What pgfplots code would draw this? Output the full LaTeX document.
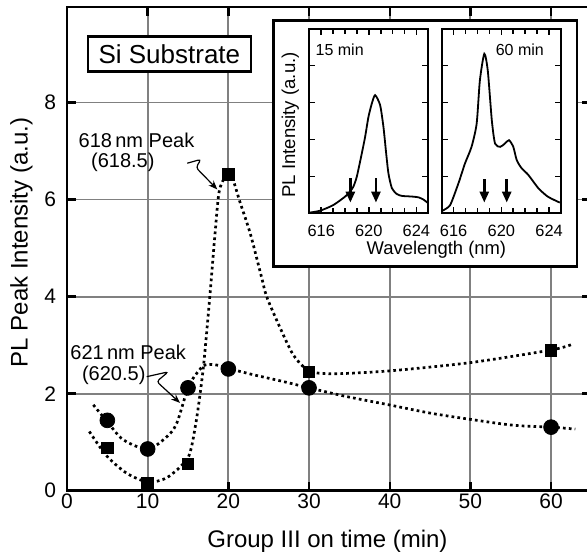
\documentclass[border=0pt]{standalone}
\usepackage{fontspec}
\setmainfont{Liberation Sans}
\usepackage{pgfplots}
\pgfplotsset{compat=1.18}
\usetikzlibrary{arrows.meta}

\begin{document}
\begin{tikzpicture}
\begin{axis}[
  at={(0pt,0pt)}, anchor=south west,
  scale only axis, width=262.2pt, height=241.85pt,
  xmin=0, xmax=65, ymin=0, ymax=9.97,
  xtick={0,10,...,60}, ytick={0,2,4,6,8},
  grid=major, grid style={black!50, line width=0.9pt},
  axis line style={line width=1.3pt},
  tick align=inside, major tick length=4.5pt,
  major tick style={black, line width=1.2pt},
  tick label style={font=\fontsize{10.5}{12}\selectfont},
  /pgf/number format/assume math mode=true,
  xticklabel style={inner sep=1.5pt},
  yticklabel style={xshift=-2pt},
]
% 618 nm fit curve
\addplot[black, line width=1.35pt, dash pattern=on 1.35pt off 1.6pt, smooth, tension=0.45] coordinates {
(2.77,1.22) (4.9,0.72) (7.4,0.36) (10,0.18) (12.4,0.27) (15,0.68) (15.9,1.32) (16.5,2.0) (17.0,2.7) (17.7,4.0) (18.35,5.3) (18.9,6.2) (20,6.55) (20.6,6.4) (21.4,5.97) (22.7,5.31) (24.1,4.41) (24.75,4.0) (26.3,3.4) (28.05,2.8) (30,2.47) (33,2.41) (40,2.47) (50,2.64) (60,2.9) (62.5,3.01)
};
% 621 nm fit curve
\addplot[black, line width=1.35pt, dash pattern=on 1.35pt off 1.6pt, smooth, tension=0.5] coordinates {
(3.26,1.77) (5,1.42) (6.98,1.05) (10,0.86) (12.36,1.11) (13.6,1.39) (15,2.12) (16.08,2.42) (17.1,2.59) (18.56,2.59) (20,2.52) (23.1,2.39) (26.8,2.25) (30,2.12) (34.67,1.94) (39.9,1.77) (45,1.6) (50,1.47) (55.3,1.35) (60,1.31) (63,1.27)
};
% 618 nm peak data
\addplot[only marks, mark=square*, mark size=2.9pt, black] coordinates {
(5,0.88) (10,0.15) (15,0.55) (20,6.52) (30,2.45) (60,2.89)
};
% 621 nm peak data
\addplot[only marks, mark=*, mark size=3.7pt, black] coordinates {
(5,1.45) (10,0.86) (15,2.12) (20,2.51) (30,2.12) (60,1.31)
};
\node[anchor=base west, inner sep=0pt, font=\fontsize{10}{12}\selectfont] at (axis cs:1.40,7.07) {618\,nm Peak};
\node[anchor=base west, inner sep=0pt, font=\fontsize{10}{12}\selectfont] at (axis cs:2.94,6.67) {(618.5)};
\node[anchor=base west, inner sep=0pt, font=\fontsize{10}{12}\selectfont] at (axis cs:0.37,2.71) {621\,nm Peak};
\node[anchor=base west, inner sep=0pt, font=\fontsize{10}{12}\selectfont] at (axis cs:1.82,2.27) {(620.5)};
\draw[line width=0.6pt, rounded corners=1.5pt, -{Stealth[length=4.5pt,width=3.5pt]}] (axis cs:14.91,6.75) -- (axis cs:16.61,6.83) -- (axis cs:15.99,6.66) -- (axis cs:18.63,6.21);
\draw[line width=0.6pt, rounded corners=1.5pt, -{Stealth[length=4.5pt,width=3.5pt]}] (axis cs:9.88,2.35) -- (axis cs:12.56,2.45) -- (axis cs:11.12,2.25) -- (axis cs:14.0,1.81);
\node[draw, line width=1.2pt, fill=white, minimum width=81.35pt, minimum height=17.5pt, inner sep=0pt, font=\fontsize{13}{15}\selectfont] at (axis cs:12.69,9.0) {Si Substrate};
\end{axis}

% axis labels (main axis sits at the origin)
\node[anchor=center, inner sep=0pt, font=\fontsize{12}{14}\selectfont] at (130.2pt,-25.4pt) {Group III on time (min)};
\node[rotate=90, anchor=center, inner sep=0pt, font=\fontsize{12}{14}\selectfont] at (-22.75pt,124.1pt) {PL Peak Intensity (a.u.)};

% inset frame
\draw[line width=1.3pt, fill=white] (103.15pt,112pt) rectangle (255pt,235pt);
\node[rotate=90, anchor=base, inner sep=0pt, font=\fontsize{9.3}{11}\selectfont] at (114pt,182.85pt) {PL Intensity (a.u.)};
\node[anchor=base, inner sep=0pt, font=\fontsize{9.2}{11}\selectfont] at (184.7pt,118.1pt) {Wavelength (nm)};

\pgfplotsset{inset/.style={
  anchor=south west, scale only axis, height=92.3pt,
  xmin=615, xmax=625, ymin=0, ymax=5,
  xtick={616,620,624}, minor x tick num=3,
  ytick={1,2,3,4}, yticklabels={},
  tick align=inside, major tick length=3pt, minor tick length=2.5pt,
  tick style={black, line width=0.8pt},
  axis line style={line width=1pt},
  xticklabel style={font=\fontsize{8.2}{9}\selectfont, inner sep=0pt, yshift=-5.5pt},
  /pgf/number format/assume math mode=true,
  /pgf/number format/1000 sep={},
}}

\begin{axis}[inset, at={(121.15pt,138.7pt)}, width=59.5pt]
\addplot[black, line width=0.9pt, smooth, tension=0.4] coordinates {
(615.05,0.02) (615.9,0.07) (617.0,0.22) (618.0,0.45) (618.4,0.58) (618.7,0.72) (618.99,0.99) (619.41,1.62) (619.69,2.07) (619.97,2.61) (620.25,2.97) (620.53,3.2) (620.95,2.93) (621.23,2.34) (621.46,1.62) (621.65,1.08) (621.94,0.68) (622.36,0.52) (622.8,0.47) (623.3,0.46) (623.76,0.45) (624.2,0.43) (624.6,0.37) (625,0.27)
};
\draw[line width=1.3pt, -{Triangle[length=5.5pt,width=4.5pt]}] (axis cs:618.45,0.95) -- (axis cs:618.45,0.29);
\draw[line width=1.3pt, -{Triangle[length=5.5pt,width=4.5pt]}] (axis cs:620.6,0.95) -- (axis cs:620.6,0.29);
\node[anchor=base west, inner sep=0pt, font=\fontsize{8}{9}\selectfont] at (axis cs:615.5,4.28) {15 min};
\end{axis}

\begin{axis}[inset, at={(187.35pt,138.7pt)}, width=59.65pt]
\addplot[black, line width=0.9pt, smooth, tension=0.4] coordinates {
(615.05,0.07) (615.7,0.22) (616.4,0.81) (616.95,1.35) (617.5,1.8) (617.93,2.43) (618.2,3.6) (618.57,4.32) (618.86,3.87) (619.2,2.52) (619.47,1.89) (619.9,1.8) (620.3,1.89) (620.64,1.98) (621.0,1.8) (621.29,1.44) (621.7,1.22) (622.26,1.04) (623.1,0.68) (623.9,0.45) (624.9,0.29)
};
\draw[line width=1.3pt, -{Triangle[length=5.5pt,width=4.5pt]}] (axis cs:618.57,0.92) -- (axis cs:618.57,0.29);
\draw[line width=1.3pt, -{Triangle[length=5.5pt,width=4.5pt]}] (axis cs:620.45,0.92) -- (axis cs:620.45,0.29);
\node[anchor=base west, inner sep=0pt, font=\fontsize{8}{9}\selectfont] at (axis cs:619.5,4.28) {60 min};
\end{axis}

\pgfresetboundingbox
\useasboundingbox (-33.5pt,-33.15pt) rectangle (260pt,245.35pt);
\end{tikzpicture}
\end{document}
